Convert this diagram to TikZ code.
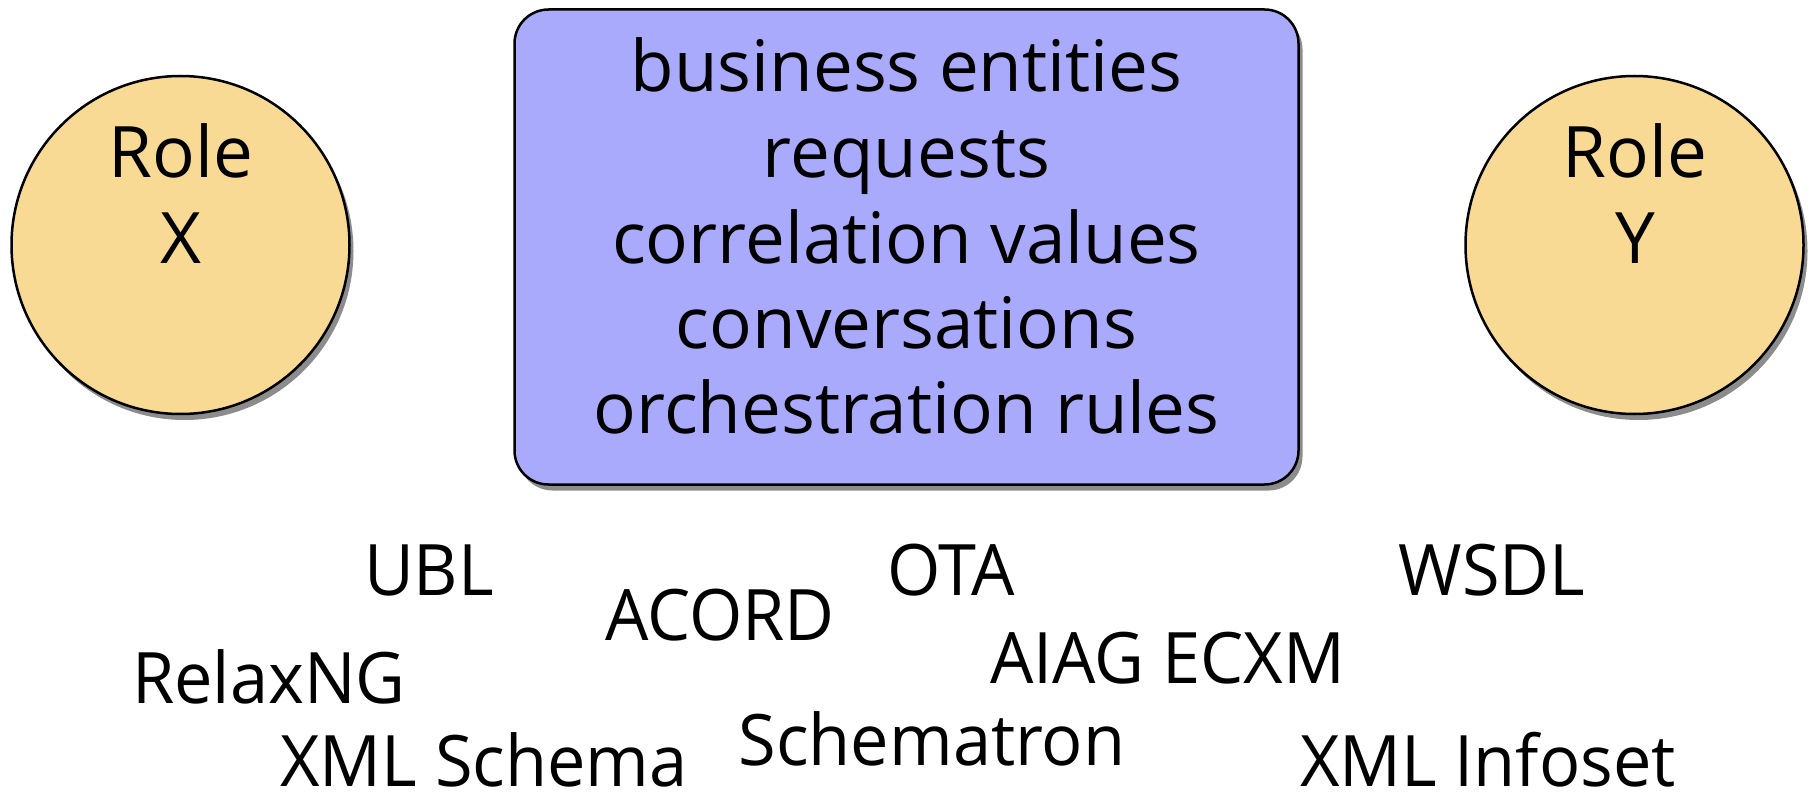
\documentclass[tikz,border=0pt]{standalone}
\usepackage{fontspec}
\setmainfont{Open Sans}
\newfontfamily\narrowlabel[FakeStretch=0.965]{Open Sans}
\usetikzlibrary{shadows}
\definecolor{rolefill}{RGB}{248,218,148}
\definecolor{boxfill}{RGB}{170,170,252}
\begin{document}
\begin{tikzpicture}[x=1pt,y=-1pt,
  big/.style={font=\fontsize{71}{85.5}\selectfont, inner sep=0pt, text=black},
  std/.style={font=\narrowlabel\fontsize{71}{85.5}\selectfont, inner sep=0pt, text=black, anchor=base},
  myshadow/.style={drop shadow={shadow xshift=4pt, shadow yshift=-6pt, fill=black, opacity=0.45}},
  rolecircle/.style={circle, draw=black, line width=2.5pt, fill=rolefill, minimum size=338pt, inner sep=0pt, myshadow},
  conceptbox/.style={rectangle, rounded corners=34pt, draw=black, line width=2.5pt, fill=boxfill, minimum width=784pt, minimum height=475pt, inner sep=0pt, myshadow}]
\useasboundingbox (0,0) rectangle (1810,797);
% roles
\node[rolecircle] (rx) at (180.5,245) {};
\node[rolecircle] (ry) at (1634.5,245) {};
\node[big, align=center] (rxt) at (181,193.5) {Role\\X};
\node[big, align=center] (ryt) at (1635,193.5) {Role\\Y};
% central box
\node[conceptbox] (box) at (906.5,247) {};
\node[big, anchor=base] (l1) at (906.5,92) {business entities};
\node[big, anchor=base] (l2) at (906.5,178) {requests};
\node[big, anchor=base] (l3) at (906.5,263) {correlation values};
\node[big, anchor=base] (l4) at (906.5,348) {conversations};
\node[big, anchor=base] (l5) at (906.5,433) {orchestration rules};
% standards
\node[std] (ubl) at (429,595) {UBL};
\node[std] (acord) at (720,640) {ACORD};
\node[std] (ota) at (951,595) {OTA};
\node[std] (wsdl) at (1492,595) {WSDL};
\node[std] (aiag) at (1167.5,683) {AIAG ECXM};
\node[std] (relax) at (269,703) {RelaxNG};
\node[std] (schematron) at (932,765) {Schematron};
\node[std] (xsd) at (484,786) {XML Schema};
\node[std] (infoset) at (1488,786) {XML Infoset};
\end{tikzpicture}
\end{document}
